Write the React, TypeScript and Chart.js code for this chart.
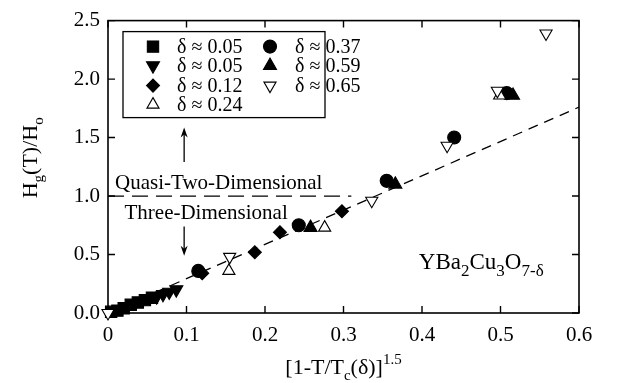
import React, { useEffect, useRef } from 'react';
import { Chart, registerables } from 'chart.js';
import { drawPoint } from 'chart.js/helpers';

Chart.register(...registerables);

const FONT = "'Liberation Serif', 'DejaVu Serif', serif";

// Data
const sq05X = [0.004, 0.012, 0.02, 0.029, 0.038, 0.047, 0.056];
const sq05Y = [0.01, 0.02, 0.04, 0.07, 0.09, 0.11, 0.13];
const dn05X = [0.062, 0.07, 0.078, 0.087];
const dn05Y = [0.14, 0.16, 0.18, 0.2];
const dm12X = [0.12, 0.187, 0.219, 0.298];
const dm12Y = [0.34, 0.52, 0.69, 0.87];
const up24X = [0.154, 0.276, 0.499];
const up24Y = [0.36, 0.73, 1.86];
const ci37X = [0.115, 0.243, 0.355, 0.441, 0.508];
const ci37Y = [0.36, 0.75, 1.13, 1.5, 1.88];
const up59X = [0.258, 0.366, 0.516];
const up59Y = [0.73, 1.1, 1.86];
const dn65X = [0, 0.155, 0.336, 0.432, 0.496, 0.558];
const dn65Y = [0, 0.48, 0.96, 1.43, 1.9, 2.39];

const fitX = [0, 0.6];
const fitY = [0, 1.76];
const crossX = [0, 0.31];
const crossY = [1, 1];

const xTickValues = [0, 0.1, 0.2, 0.3, 0.4, 0.5, 0.6];
const yTickValues = [0, 0.5, 1.0, 1.5, 2.0, 2.5];

const legendLabels = ['δ ≈ 0.05', 'δ ≈ 0.05', 'δ ≈ 0.12', 'δ ≈ 0.24', 'δ ≈ 0.37', 'δ ≈ 0.59', 'δ ≈ 0.65'];

const zip = (xs: number[], ys: number[]) => xs.map((x, i) => ({ x, y: ys[i] }));

type Part = { t: string; size: number; dy: number };

function richWidth(ctx: CanvasRenderingContext2D, parts: Part[]) {
  let w = 0;
  for (const p of parts) {
    ctx.font = `${p.size}px ${FONT}`;
    w += ctx.measureText(p.t).width;
  }
  return w;
}

function drawRich(ctx: CanvasRenderingContext2D, x: number, y: number, parts: Part[], align: 'left' | 'center') {
  let cx = x;
  if (align === 'center') cx = x - richWidth(ctx, parts) / 2;
  ctx.textAlign = 'left';
  ctx.textBaseline = 'alphabetic';
  for (const p of parts) {
    ctx.font = `${p.size}px ${FONT}`;
    ctx.fillText(p.t, cx, y + p.dy);
    cx += ctx.measureText(p.t).width;
  }
}

function arrow(ctx: CanvasRenderingContext2D, x: number, y0: number, y1: number) {
  const dir = y1 < y0 ? -1 : 1;
  ctx.beginPath();
  ctx.moveTo(x, y0);
  ctx.lineTo(x, y1 - dir * 6);
  ctx.lineWidth = 1.3;
  ctx.stroke();
  ctx.beginPath();
  ctx.moveTo(x, y1);
  ctx.lineTo(x - 3.5, y1 - dir * 10);
  ctx.lineTo(x, y1 - dir * 7);
  ctx.lineTo(x + 3.5, y1 - dir * 10);
  ctx.closePath();
  ctx.fill();
}

const framePlugin = {
  id: 'frame',
  beforeDatasetsDraw(chart: any) {
    const { ctx, chartArea: ca, scales } = chart;
    const xs = scales.x;
    const ys = scales.y;
    ctx.save();
    ctx.strokeStyle = '#000';
    ctx.lineWidth = 1.6;
    ctx.strokeRect(ca.left, ca.top, ca.right - ca.left, ca.bottom - ca.top);
    const tl = 7;
    ctx.lineWidth = 1.4;
    ctx.beginPath();
    xs.ticks.forEach((t: any) => {
      const px = xs.getPixelForValue(t.value);
      ctx.moveTo(px, ca.bottom);
      ctx.lineTo(px, ca.bottom - tl);
      ctx.moveTo(px, ca.top);
      ctx.lineTo(px, ca.top + tl);
    });
    ys.ticks.forEach((t: any) => {
      const py = ys.getPixelForValue(t.value);
      ctx.moveTo(ca.left, py);
      ctx.lineTo(ca.left + tl, py);
      ctx.moveTo(ca.right, py);
      ctx.lineTo(ca.right - tl, py);
    });
    ctx.stroke();
    ctx.restore();
  },
  afterDraw(chart: any) {
    const { ctx, chartArea: ca, scales } = chart;
    const xs = scales.x;
    const ys = scales.y;
    ctx.save();
    ctx.fillStyle = '#000';
    ctx.strokeStyle = '#000';

    // Axis titles
    drawRich(ctx, (ca.left + ca.right) / 2, ca.bottom + 61, [
      { t: '[1-T/T', size: 22, dy: 0 },
      { t: 'c', size: 15, dy: 6 },
      { t: '(δ)]', size: 22, dy: 0 },
      { t: '1.5', size: 15, dy: -10 },
    ], 'center');

    ctx.save();
    ctx.translate(ca.left - 71, (ca.top + ca.bottom) / 2 - 9);
    ctx.rotate(-Math.PI / 2);
    drawRich(ctx, 0, 0, [
      { t: 'H', size: 22, dy: 0 },
      { t: 'g', size: 15, dy: 6 },
      { t: '(T)/H', size: 22, dy: 0 },
      { t: 'o', size: 15, dy: 6 },
    ], 'center');
    ctx.restore();

    // Annotations
    drawRich(ctx, xs.getPixelForValue(0.009), ys.getPixelForValue(1.06), [{ t: 'Quasi-Two-Dimensional', size: 21, dy: 0 }], 'left');
    drawRich(ctx, xs.getPixelForValue(0.021), ys.getPixelForValue(0.8), [{ t: 'Three-Dimensional', size: 21, dy: 0 }], 'left');
    drawRich(ctx, xs.getPixelForValue(0.396), ys.getPixelForValue(0.375), [
      { t: 'YBa', size: 23, dy: 0 },
      { t: '2', size: 17, dy: 7 },
      { t: 'Cu', size: 23, dy: 0 },
      { t: '3', size: 17, dy: 7 },
      { t: 'O', size: 23, dy: 0 },
      { t: '7-δ', size: 17, dy: 7 },
    ], 'left');

    const ax = xs.getPixelForValue(0.097);
    arrow(ctx, ax, ys.getPixelForValue(1.29), ys.getPixelForValue(1.585));
    arrow(ctx, ax, ys.getPixelForValue(0.74), ys.getPixelForValue(0.49));

    // Legend
    const bx = ca.left + 15;
    const by = ca.top + 11;
    ctx.lineWidth = 1.3;
    ctx.strokeRect(bx, by, 202, 86);
    const rows = [15, 34, 54, 73];
    const ds = chart.data.datasets.slice(0, 7);
    ds.forEach((d: any, i: number) => {
      const col = i < 4 ? 0 : 1;
      const row = i < 4 ? i : i - 4;
      const sx = bx + (col === 0 ? 30 : 147);
      const tx = bx + (col === 0 ? 54 : 172);
      const sy = by + rows[row];
      ctx.save();
      ctx.fillStyle = d.backgroundColor;
      ctx.strokeStyle = d.borderColor;
      ctx.lineWidth = d.borderWidth;
      drawPoint(ctx, { pointStyle: d.pointStyle, rotation: d.rotation || 0, radius: d.pointRadius, borderWidth: d.borderWidth }, sx, sy);
      ctx.restore();
      ctx.font = `20px ${FONT}`;
      ctx.textAlign = 'left';
      ctx.textBaseline = 'middle';
      ctx.fillText(legendLabels[i], tx, sy + 1);
    });
    ctx.restore();
  },
};

export default function App() {
  const ref = useRef<HTMLCanvasElement | null>(null);
  useEffect(() => {
    document.body.style.margin = '0';
    if (!ref.current) return;
    const black = '#000';
    const mk = (data: any[], style: string, radius: number, fill: string, rotation = 0, order = 0) => ({
      type: 'scatter' as const,
      data,
      pointStyle: style,
      pointRadius: radius,
      pointHoverRadius: radius,
      rotation,
      backgroundColor: fill,
      borderColor: black,
      borderWidth: 1.1,
      showLine: false,
      clip: false as any,
      order,
    });
    const chart = new Chart(ref.current, {
      type: 'scatter',
      data: {
        datasets: [
          mk(zip(sq05X, sq05Y), 'rect', 8, black, 0, 1),
          mk(zip(dn05X, dn05Y), 'triangle', 7.5, black, 180, 1),
          mk(zip(dm12X, dm12Y), 'rectRot', 6.5, black, 0, 1),
          mk(zip(up24X, up24Y), 'triangle', 7, '#fff', 0, 1),
          mk(zip(ci37X, ci37Y), 'circle', 6.5, black, 0, 1),
          mk(zip(up59X, up59Y), 'triangle', 7.5, black, 0, 1),
          mk(zip(dn65X, dn65Y), 'triangle', 7, '#fff', 180, 0),
          {
            type: 'line' as const,
            data: zip(fitX, fitY),
            borderColor: black,
            borderWidth: 1.3,
            borderDash: [10, 7],
            pointRadius: 0,
            fill: false,
            order: 2,
          } as any,
          {
            type: 'line' as const,
            data: zip(crossX, crossY),
            borderColor: black,
            borderWidth: 1.3,
            borderDash: [16, 8],
            pointRadius: 0,
            fill: false,
            order: 2,
          } as any,
        ],
      },
      options: {
        animation: false,
        responsive: true,
        maintainAspectRatio: false,
        layout: { padding: { top: 12, right: 40, left: 0, bottom: 0 } },
        plugins: { legend: { display: false }, tooltip: { enabled: false } },
        scales: {
          x: {
            type: 'linear',
            min: 0,
            max: 0.6,
            afterBuildTicks: (s: any) => { s.ticks = xTickValues.map((v) => ({ value: v })); },
            afterFit: (s: any) => { s.height = 70; },
            grid: { display: false, drawTicks: false },
            border: { display: false },
            ticks: {
              color: '#000',
              padding: 10,
              font: { family: FONT, size: 21 },
              callback: (v: any) => String(Math.round(Number(v) * 10) / 10),
            },
          },
          y: {
            type: 'linear',
            min: 0,
            max: 2.5,
            afterBuildTicks: (s: any) => { s.ticks = yTickValues.map((v) => ({ value: v })); },
            afterFit: (s: any) => { s.width = 108; },
            grid: { display: false, drawTicks: false },
            border: { display: false },
            ticks: {
              color: '#000',
              padding: 8,
              font: { family: FONT, size: 21 },
              callback: (v: any) => Number(v).toFixed(1),
            },
          },
        },
      },
      plugins: [framePlugin],
    });
    return () => chart.destroy();
  }, []);
  return (
    <div style={{ width: 619, height: 383, position: 'relative', background: '#fff' }}>
      <canvas ref={ref} />
    </div>
  );
}
